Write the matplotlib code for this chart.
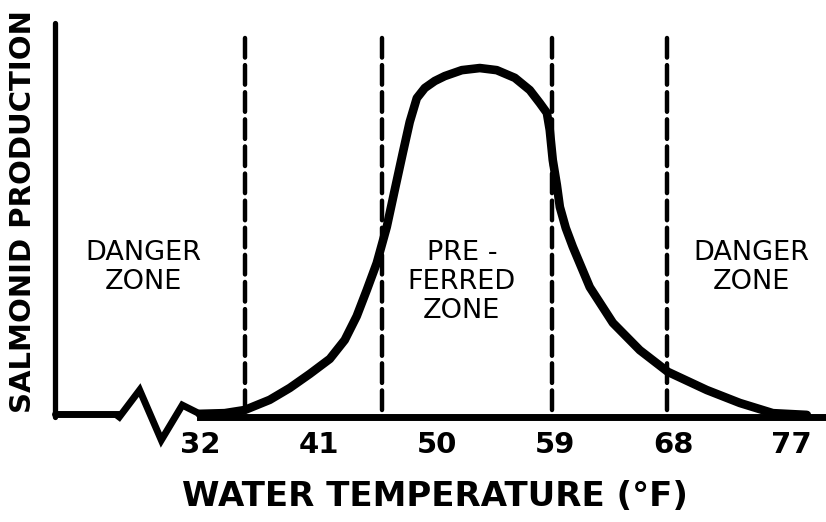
import matplotlib
matplotlib.use("Agg")
import matplotlib.pyplot as plt

# ---- data ----
# Curve: water temperature (°F) vs relative salmonid production (peak = 100)
curve_temp = [31.93, 33.83, 35.36, 37.26, 38.79, 40.31, 41.84, 42.98, 43.89, 44.66,
              45.42, 46.18, 46.79, 47.40, 47.93, 48.47, 49.08, 49.84, 50.60, 51.90,
              53.27, 54.56, 55.94, 57.08, 57.84, 58.38, 58.60, 58.83, 59.14, 59.37,
              59.82, 60.36, 61.65, 63.41, 65.46, 67.60, 70.57, 73.09, 75.60, 78.19]
curve_prod = [0.9, 1.1, 2.0, 4.9, 8.3, 12.3, 16.6, 22.0, 28.8, 36.3,
              44.0, 54.3, 64.9, 75.4, 84.3, 91.1, 94.0, 96.0, 97.4, 99.1,
              99.7, 99.1, 96.9, 93.4, 89.7, 86.9, 82.0, 73.4, 66.3, 60.0,
              54.0, 48.6, 37.1, 26.9, 19.1, 12.9, 7.7, 4.0, 1.1, 0.6]

# axis break zigzag on the temperature axis
break_temp = [25.8, 27.35, 29.0, 30.6, 31.93]
break_prod = [0.0, 7.7, -6.6, 3.4, 0.9]

zone_bounds = [35.35, 45.8, 58.75, 67.5]

tick_values = [32, 41, 50, 59, 68, 77]
tick_labels = ["32", "41", "50", "59", "68", "77"]

zone_labels = ["DANGER\nZONE", "PRE -\nFERRED\nZONE", "DANGER\nZONE"]
zone_label_temp = [27.65, 51.9, 74.0]
zone_label_top = [50.7, 50.7, 50.7]

x_label = "WATER TEMPERATURE (°F)"
y_label = "SALMONID PRODUCTION"

# ---- figure ----
W, H = 826, 522
fig = plt.figure(figsize=(W / 100, H / 100), dpi=100)
left_px, right_px, top_px, axis_px = 55, 826, 23, 417
ax = fig.add_axes([left_px / W, (H - axis_px) / H,
                   (right_px - left_px) / W, (axis_px - top_px) / H])

x_min, x_max = 20.9, 79.65
y_max = (axis_px - top_px) / 3.5
ax.set_xlim(x_min, x_max)
ax.set_ylim(0, y_max)
for s in ax.spines.values():
    s.set_visible(False)

# y axis
ax.plot([x_min, x_min], [0, y_max], color="black", lw=3.8,
        solid_capstyle="round", clip_on=False)
# x axis: before break, zigzag, after break
ax.plot([x_min, break_temp[0]], [0.9, 0.9], color="black", lw=5,
        solid_capstyle="round", clip_on=False)
ax.plot(break_temp, break_prod, color="black", lw=5,
        solid_joinstyle="miter", clip_on=False)
ax.plot([break_temp[-1], x_max], [0, 0], color="black", lw=5, clip_on=False)

# dashed zone boundaries (drawn from the top down)
for xb in zone_bounds:
    ln, = ax.plot([xb, xb], [108.3, 0], color="black", lw=3.2, clip_on=False)
    ln.set_dashes((4.4, 1.7))
    ln.set_dash_capstyle("round")

# production curve
ax.plot(curve_temp, curve_prod, color="black", lw=6.2,
        solid_capstyle="round", solid_joinstyle="round", clip_on=False)

# zone labels
for txt, xt, yt in zip(zone_labels, zone_label_temp, zone_label_top):
    ax.text(xt, yt, txt, ha="center", va="top", fontsize=19.5,
            family="DejaVu Sans", linespacing=1.15, multialignment="center")

# ticks
ax.set_xticks(tick_values)
ax.set_xticklabels(tick_labels, fontsize=21, fontweight="bold")
ax.tick_params(axis="x", length=0, pad=10)
ax.set_yticks([])

ax.set_xlabel(x_label, fontsize=24.5, fontweight="bold")
ax.xaxis.label.set_va("center")
ax.xaxis.set_label_coords((435 - left_px) / (right_px - left_px),
                          -(497 - axis_px) / (axis_px - top_px))
ax.set_ylabel(y_label, fontsize=21, fontweight="bold")
ax.yaxis.label.set_va("center")
ax.yaxis.set_label_coords(-(left_px - 23) / (right_px - left_px),
                          (axis_px - 212) / (axis_px - top_px))

fig.savefig("out.png", dpi=100)
